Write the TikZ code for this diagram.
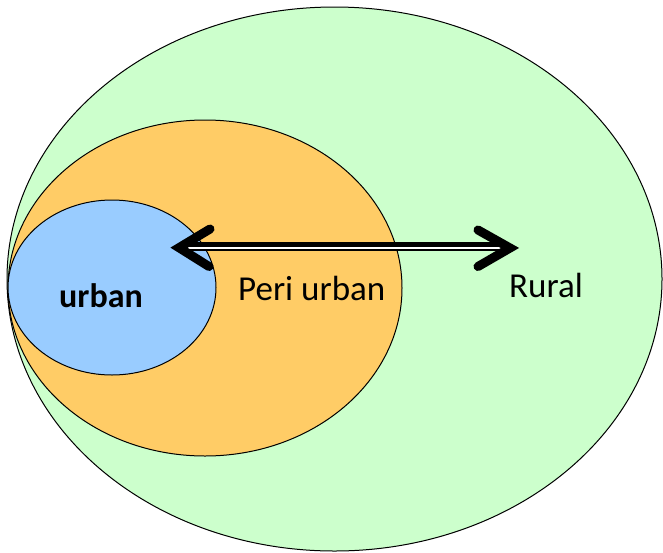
\documentclass[tikz,border=0pt]{standalone}
\usepackage{fontspec}
\setmainfont{Carlito}
\usetikzlibrary{shapes.geometric}
\definecolor{ruralgreen}{HTML}{CCFFCC}
\definecolor{perorange}{HTML}{FFCC66}
\definecolor{urbblue}{HTML}{99CCFF}
\begin{document}
\begin{tikzpicture}[x=1pt,y=-1pt,
  zone/.style={ellipse,draw=black,line width=1pt,inner sep=0pt},
  lbl/.style={anchor=base west,inner sep=0pt,font=\fontsize{35}{40}\selectfont},
  chevron/.style={line width=9pt,line cap=round,line join=miter}]
\useasboundingbox (0,0) rectangle (663,552);
\node[zone,fill=ruralgreen,minimum width=655pt,minimum height=544pt] (rural) at (334.5,279) {};
\node[zone,fill=perorange,minimum width=394pt,minimum height=336pt] (peri) at (205,288) {};
\node[zone,fill=urbblue,minimum width=208pt,minimum height=175pt] (urban) at (112,287.5) {};
\node[lbl,font=\fontsize{34}{40}\selectfont\bfseries] (urbantxt) at (59,307) {urban};
\node[lbl] (peritxt) at (238,300) {Peri urban};
\node[lbl] (ruraltxt) at (509,297.5) {Rural};
% arrow
\coordinate (tl) at (179,247.7);
\coordinate (tr) at (510,248);
\coordinate (al1) at (210,229);
\coordinate (al2) at (209,266.5);
\coordinate (ar1) at (478,230);
\coordinate (ar2) at (478,266.5);
\coordinate (s1) at (185,244.8);
\coordinate (s2) at (505,244.8);
\coordinate (g1) at (188,248.2);
\coordinate (g2) at (505,248.2);
\coordinate (b1) at (188,250.4);
\coordinate (b2) at (505,250.4);
\draw[white,line width=1.8pt] (g1) -- (g2);
\draw[black,line width=2pt] (b1) -- (b2);
\draw[black,line width=5pt] (s1) -- (s2);
\draw[chevron] (al1) -- (tl) -- (al2);
\draw[chevron] (ar1) -- (tr) -- (ar2);
\end{tikzpicture}
\end{document}
